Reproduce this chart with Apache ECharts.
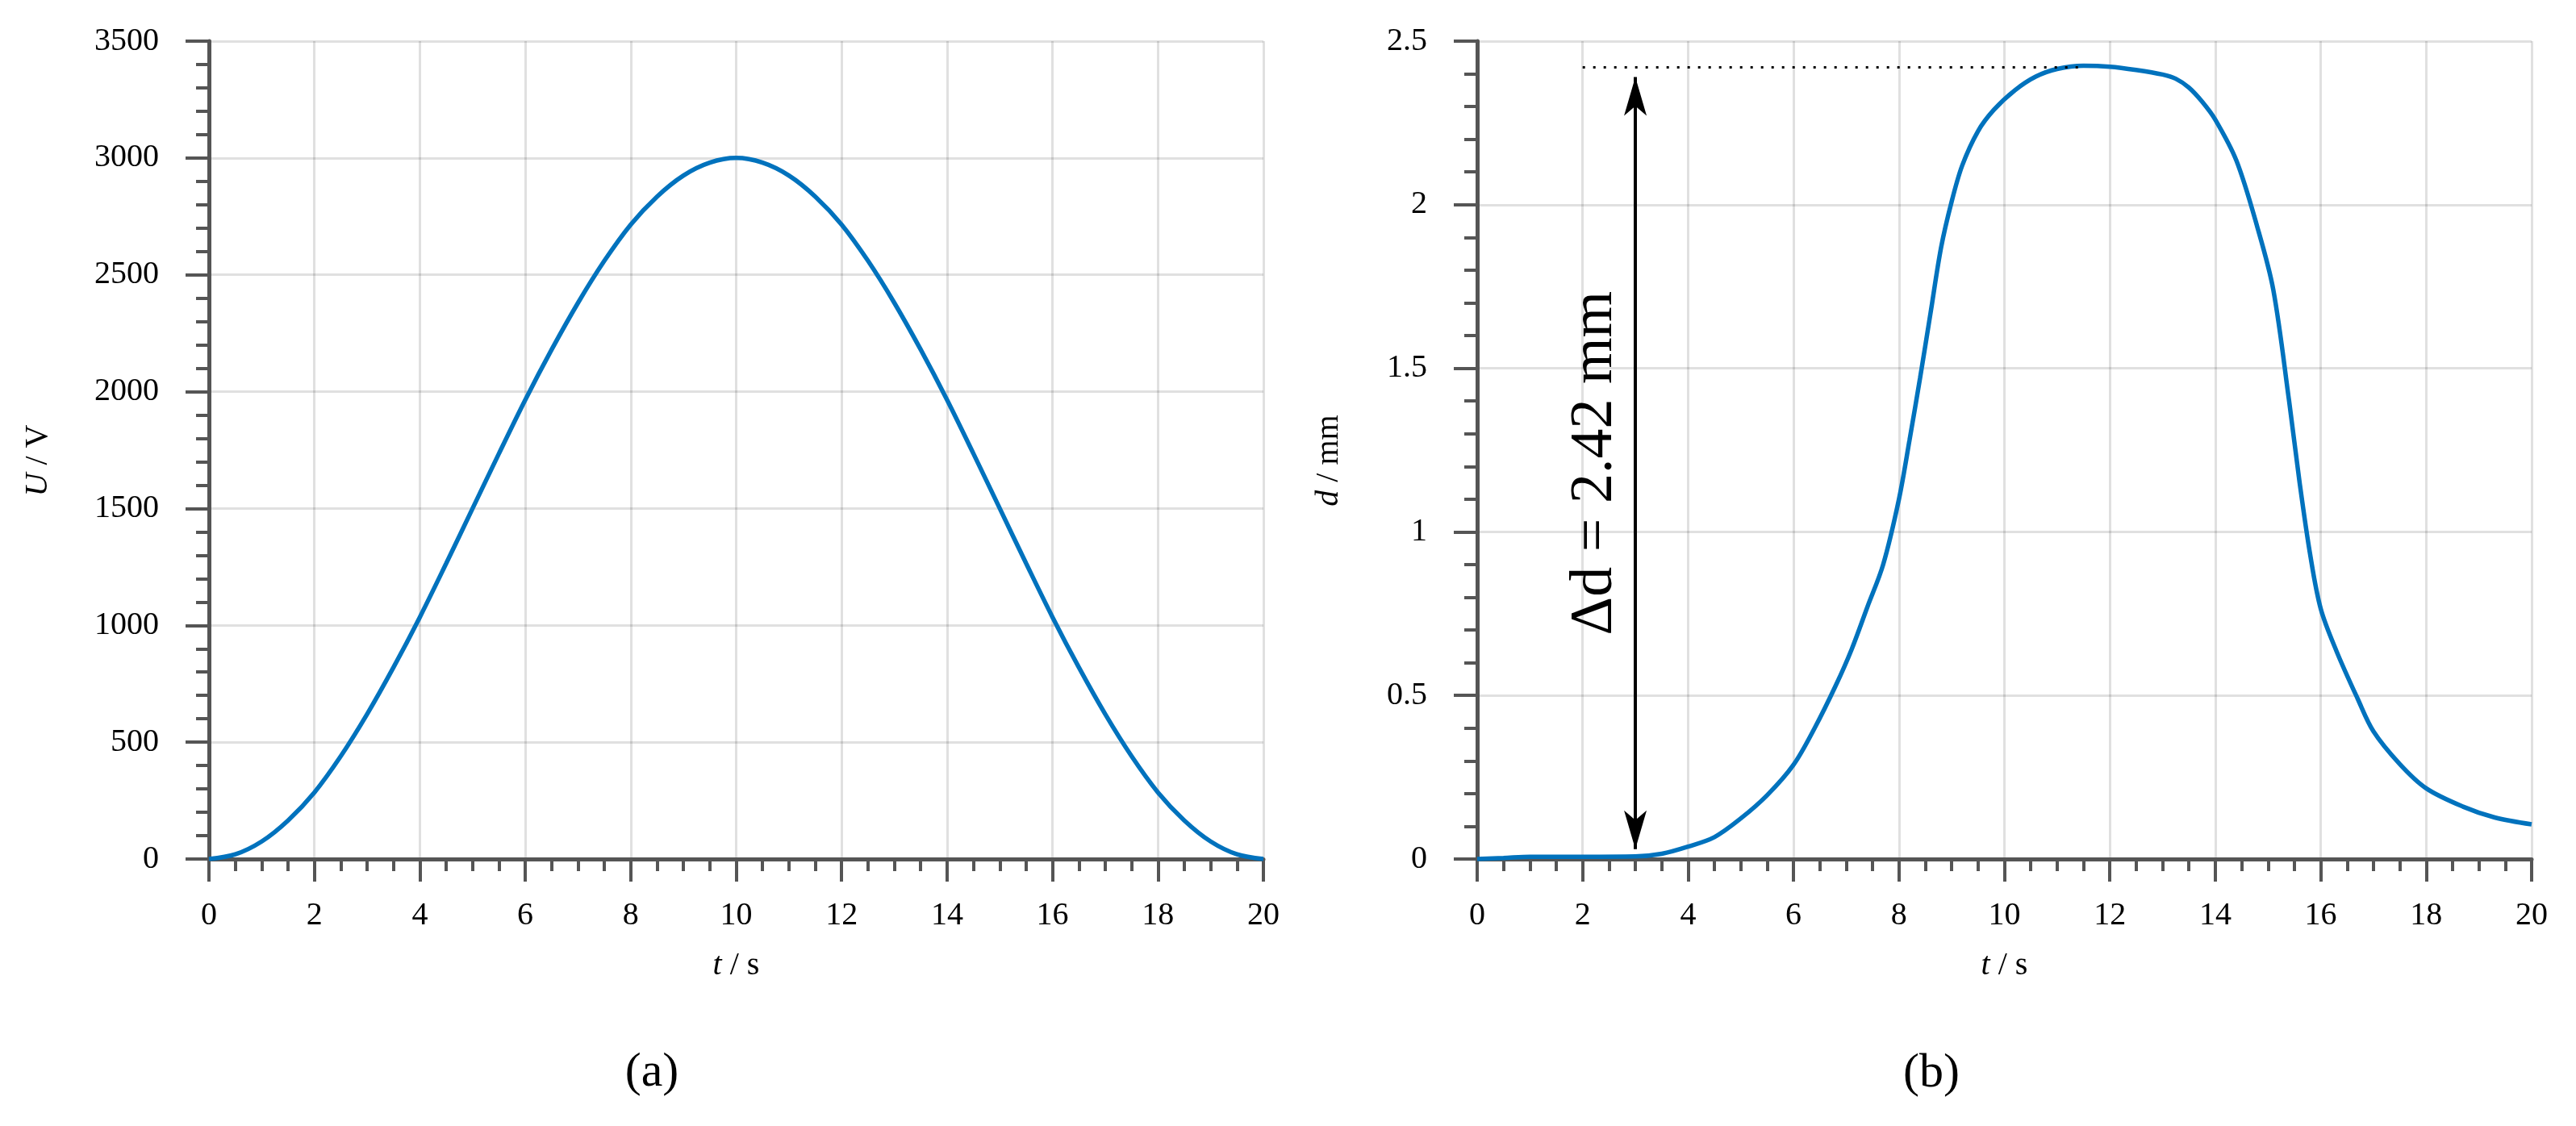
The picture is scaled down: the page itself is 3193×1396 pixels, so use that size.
<!DOCTYPE html>
<html>
<head>
<meta charset="utf-8">
<title>U and d over t</title>
<script src="https://cdn.jsdelivr.net/npm/echarts@6/dist/echarts.min.js"></script>
<style>
  html, body { margin: 0; padding: 0; background: #fff; }
  #chart { width: 3193px; height: 1396px; }
</style>
</head>
<body>
<div id="chart"></div>
<script>
// (a) voltage U over time
var tU = [0, 0.5, 1, 1.5, 2, 2.5, 3, 3.5, 4, 4.5, 5, 5.5, 6, 6.5, 7, 7.5, 8, 8.5, 9, 9.5, 10,
  10.5, 11, 11.5, 12, 12.5, 13, 13.5, 14, 14.5, 15, 15.5, 16, 16.5, 17, 17.5, 18, 18.5, 19, 19.5, 20]
var valU = [0, 20, 75, 165, 285, 440, 620, 820, 1035, 1265, 1500, 1735, 1965, 2180, 2380, 2560, 2715, 2835, 2925, 2980, 3000,
  2980, 2925, 2835, 2715, 2560, 2380, 2180, 1965, 1735, 1500, 1265, 1035, 820, 620, 440, 285, 165, 75, 20, 0]

// (b) displacement d over time
var tD = [0, 0.5, 1, 2, 3, 3.5, 4, 4.5, 5, 5.5, 6, 6.4, 6.8, 7.1, 7.4, 7.7, 8, 8.2, 8.4, 8.6, 8.8, 9, 9.2, 9.5, 9.8,
  10.2, 10.6, 11, 11.5, 12, 12.5, 13, 13.25, 13.5, 13.75, 14, 14.4, 14.8, 15.1, 15.4, 15.6, 15.8, 16, 16.3, 16.7, 17, 17.5, 18, 18.7, 19.3, 20]
var valD = [0, 0.003, 0.007, 0.007, 0.008, 0.016, 0.038, 0.067, 0.124, 0.195, 0.288, 0.4, 0.53, 0.64, 0.77, 0.9, 1.1, 1.28, 1.47, 1.67, 1.87, 2.01, 2.12, 2.225, 2.29,
  2.35, 2.392, 2.415, 2.425, 2.422, 2.412, 2.398, 2.385, 2.358, 2.315, 2.26, 2.135, 1.93, 1.74, 1.4, 1.15, 0.93, 0.765, 0.635, 0.49, 0.39, 0.29, 0.216, 0.16, 0.127, 0.106]

// annotation
var deltaT = 3
var deltaD = 2.42
var deltaText = 'Δd = 2.42 mm'
var dotFrom = 2
var dotTo = 11.4

var serif = '"Liberation Serif", "DejaVu Serif", serif'
var axisGrey = '#555555'
var blue = '#0072BD'

function pairs(xs, ys) {
  return xs.map(function (x, i) { return [x, ys[i]] })
}

function xAxisFor(idx) {
  return {
    type: 'value',
    gridIndex: idx,
    min: 0,
    max: 20,
    interval: 2,
    name: '{i|t} / s',
    nameLocation: 'middle',
    nameGap: 112,
    nameTextStyle: {
      fontFamily: serif, fontSize: 40, color: '#000',
      rich: { i: { fontFamily: serif, fontSize: 40, fontStyle: 'italic', color: '#000' } },
    },
    axisLine: { lineStyle: { color: axisGrey, width: 5 } },
    axisTick: { length: 28, lineStyle: { color: axisGrey, width: 4 } },
    minorTick: { show: true, splitNumber: 4, length: 15, lineStyle: { color: axisGrey, width: 4 } },
    axisLabel: { margin: 50, fontFamily: serif, fontSize: 40, color: '#000' },
    splitLine: { show: true, lineStyle: { color: 'rgba(0,0,0,0.12)', width: 3 } },
  }
}

function yAxisFor(idx, max, interval, nameHtml, gap) {
  return {
    type: 'value',
    gridIndex: idx,
    min: 0,
    max: max,
    interval: interval,
    name: nameHtml,
    nameLocation: 'middle',
    nameGap: gap,
    nameTextStyle: {
      fontFamily: serif, fontSize: 40, color: '#000', padding: [0, 26, 0, 0],
      rich: { i: { fontFamily: serif, fontSize: 40, fontStyle: 'italic', color: '#000' } },
    },
    axisLine: { show: true, lineStyle: { color: axisGrey, width: 5 } },
    axisTick: { show: true, length: 29, lineStyle: { color: axisGrey, width: 4 } },
    minorTick: { show: true, splitNumber: 5, length: 16, lineStyle: { color: axisGrey, width: 4 } },
    axisLabel: {
      margin: 62, fontFamily: serif, fontSize: 40, color: '#000',
      formatter: function (v) { return String(v) },
    },
    splitLine: { show: true, lineStyle: { color: 'rgba(0,0,0,0.12)', width: 3 } },
  }
}

var myChart = echarts.init(document.getElementById('chart'))

var option = {
  animation: false,
  backgroundColor: '#fff',
  grid: [
    { left: 259, top: 51, width: 1307, height: 1014 },
    { left: 1831, top: 51, width: 1307, height: 1014 },
  ],
  xAxis: [xAxisFor(0), xAxisFor(1)],
  yAxis: [
    yAxisFor(0, 3500, 500, '{i|U} / V', 192),
    yAxisFor(1, 2.5, 0.5, '{i|d} / mm', 164),
  ],
  graphic: [
    { type: 'text', x: 808, y: 1330, style: { text: '(a)', fontFamily: serif, fontSize: 60, fill: '#000', align: 'center', verticalAlign: 'middle' } },
    { type: 'text', x: 2394, y: 1331, style: { text: '(b)', fontFamily: serif, fontSize: 60, fill: '#000', align: 'center', verticalAlign: 'middle' } },
  ],
  series: [
    {
      name: 'U',
      type: 'line',
      xAxisIndex: 0,
      yAxisIndex: 0,
      data: pairs(tU, valU),
      showSymbol: false,
      smooth: 0.33,
      lineStyle: { color: blue, width: 5.5 },
    },
    {
      name: 'd',
      type: 'line',
      xAxisIndex: 1,
      yAxisIndex: 1,
      data: pairs(tD, valD),
      showSymbol: false,
      smooth: 0.33,
      lineStyle: { color: blue, width: 5.5 },
      z: 3,
      markLine: {
        silent: true,
        animation: false,
        data: [
          // dotted level line at the plateau
          [
            { coord: [dotFrom, deltaD], symbol: 'none', lineStyle: { color: '#000', width: 3, type: [3, 10] }, label: { show: false } },
            { coord: [dotTo, deltaD], symbol: 'none' },
          ],
          // double arrow; symbols are centred on the ends, so pull them in a bit
          [
            {
              coord: [deltaT, 0.03],
              symbol: 'arrow',
              symbolSize: [21, 48],
              lineStyle: { color: '#000', width: 4, type: 'solid' },
              label: {
                show: true,
                position: 'insideMiddleTop',
                formatter: deltaText,
                distance: 12,
                fontFamily: serif,
                fontSize: 74,
                color: '#000',
              },
            },
            { coord: [deltaT, deltaD - 0.03], symbol: 'arrow', symbolSize: [21, 48] },
          ],
        ],
      },
    },
  ],
}

myChart.setOption(option)
</script>
</body>
</html>
